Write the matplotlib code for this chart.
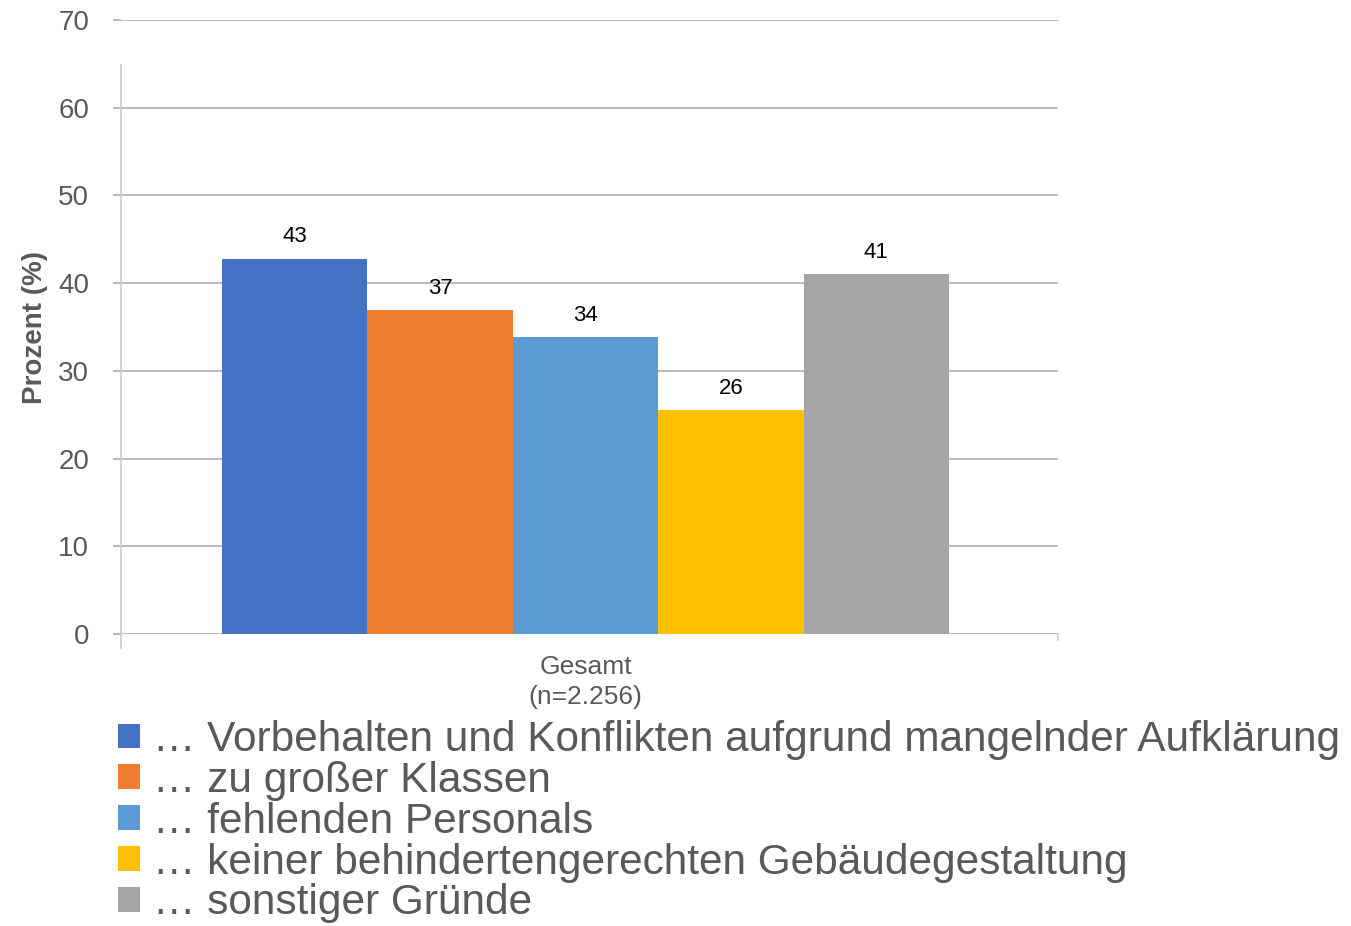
import matplotlib.pyplot as plt
from matplotlib.patches import Patch

plt.rcParams['font.family'] = ['Liberation Sans', 'DejaVu Sans']

# Daten
kategorie = 'Gesamt\n(n=2.256)'
gruende = ['… Vorbehalten und Konflikten aufgrund mangelnder Aufklärung',
           '… zu großer Klassen',
           '… fehlenden Personals',
           '… keiner behindertengerechten Gebäudegestaltung',
           '… sonstiger Gründe']
werte = [42.8, 36.9, 33.9, 25.5, 41.0]
labels = ['43', '37', '34', '26', '41']
farben = ['#4472C4', '#ED7D31', '#5B9BD5', '#FFC000', '#A5A5A5']
yticks = [0, 10, 20, 30, 40, 50, 60, 70]

grau_text = '#595959'
grau_grid = '#B4B4B4'
grau_achse = '#D0D0D0'

fig = plt.figure(figsize=(13.51, 9.26), dpi=100)
ax = fig.add_axes([121/1351, 1 - 634/926, (1058 - 121)/1351, (634 - 20)/926])

offsets = [-2, -1, 0, 1, 2]
for i in range(len(werte)):
    b = ax.bar(0 + offsets[i], werte[i], width=1.0, color=farben[i], zorder=3)
    ax.bar_label(b, labels=[labels[i]], padding=8, fontsize=16, color='black')

ax.set_ylim(0, 70)
ax.set_xlim(-3.195, 3.249)
ax.set_yticks(yticks)
ax.set_xticks([0])
ax.set_xticklabels([kategorie], fontsize=19, color=grau_text, linespacing=1.35)
ax.set_xticks([3.249], minor=True)

ax.grid(axis='y', color=grau_grid, linewidth=1.3, zorder=0)
ax.tick_params(axis='y', length=6, width=1.3, color=grau_grid, labelsize=20,
               labelcolor=grau_text, pad=17)
ax.tick_params(axis='x', which='major', length=0, pad=15)
ax.tick_params(axis='x', which='minor', length=5, width=1.3, color=grau_achse)

for s in ['top', 'right', 'bottom']:
    ax.spines[s].set_visible(False)
ax.spines['left'].set_color(grau_achse)
ax.spines['left'].set_linewidth(1.3)
ax.spines['left'].set_bounds(-1.6, 64.9)
ax.spines['left'].set_zorder(4)

ax.set_ylabel('Prozent (%)', fontsize=20, fontweight='bold', color=grau_text)
ax.yaxis.set_label_coords(-0.078, 0.5)

handles = [Patch(facecolor=farben[i], label=gruende[i]) for i in range(len(gruende))]
fig.legend(handles=handles, loc='upper left', bbox_to_anchor=(118/1351, 1 - 720/926),
           frameon=False, fontsize=30.5, labelcolor=grau_text, borderpad=0,
           borderaxespad=0, handlelength=0.52, handleheight=0.52,
           handletextpad=0.3, labelspacing=0.02)

fig.savefig('out.png', dpi=100)
